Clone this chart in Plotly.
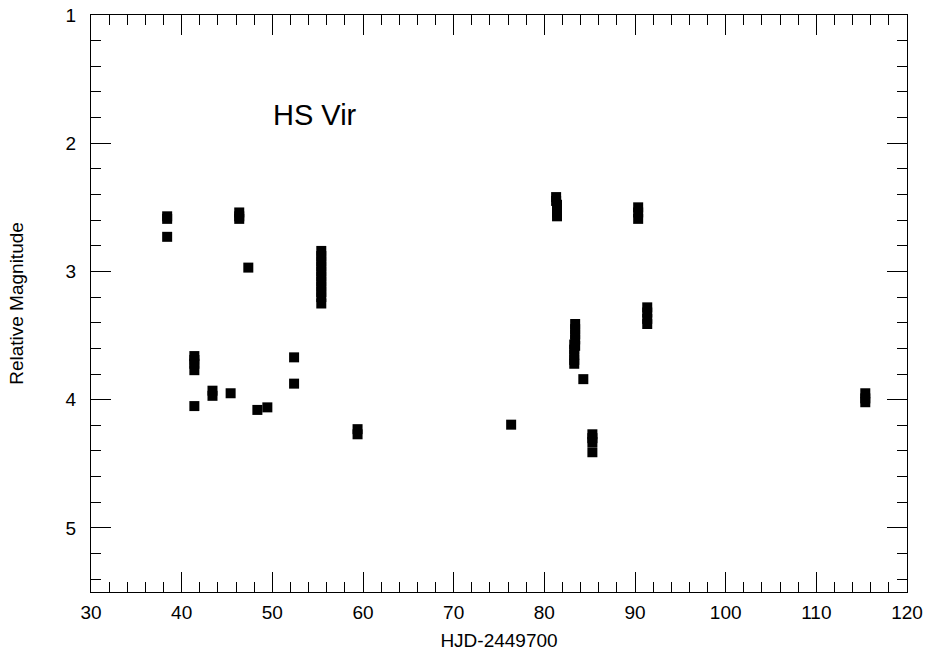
import plotly.graph_objects as go

hjd = [
    38.4, 38.4, 38.4,
    41.4, 41.4, 41.4, 41.4, 41.4,
    43.4, 43.4,
    45.4,
    46.35, 46.35, 46.35,
    47.35,
    48.35,
    49.45,
    52.4, 52.4,
    55.4, 55.4, 55.4, 55.4, 55.4, 55.4, 55.4, 55.4, 55.4, 55.4, 55.4,
    59.4, 59.4,
    76.34,
    81.3, 81.3, 81.4, 81.4, 81.4, 81.4,
    83.4, 83.4, 83.4, 83.4, 83.4,
    83.3, 83.3, 83.3, 83.3, 83.3,
    84.3,
    85.3, 85.3, 85.3, 85.3,
    90.35, 90.35, 90.35,
    91.35, 91.35, 91.35, 91.35,
    115.4, 115.4, 115.4,
]
mag = [
    2.57, 2.59, 2.73,
    3.66, 3.69, 3.72, 3.77, 4.05,
    3.93, 3.97,
    3.95,
    2.54, 2.57, 2.59,
    2.97,
    4.08,
    4.06,
    3.67, 3.875,
    2.84, 2.88, 2.92, 2.96, 3.00, 3.04, 3.08, 3.12, 3.16, 3.20, 3.25,
    4.23, 4.27,
    4.195,
    2.42, 2.45, 2.48, 2.51, 2.54, 2.57,
    3.41, 3.45, 3.49, 3.53, 3.58,
    3.57, 3.61, 3.65, 3.69, 3.72,
    3.84,
    4.27, 4.30, 4.33, 4.41,
    2.50, 2.54, 2.59,
    3.28, 3.32, 3.37, 3.41,
    3.95, 3.99, 4.02,
]

x_ticks = [30, 40, 50, 60, 70, 80, 90, 100, 110, 120]
y_ticks = [1, 2, 3, 4, 5]
star_name = "HS Vir"

FONT = "Liberation Sans, Arial, sans-serif"

fig = go.Figure()
fig.add_trace(go.Scatter(
    x=hjd, y=mag, mode="markers",
    marker=dict(symbol="square", size=10, color="black", line=dict(width=0)),
    showlegend=False, hoverinfo="x+y",
))

fig.add_annotation(
    x=49.9, y=1.78, xref="x", yref="y", text=star_name, showarrow=False,
    xanchor="left", yanchor="middle", font=dict(size=29, color="black", family=FONT),
)

axis_common = dict(
    showline=True, linecolor="black", linewidth=1, mirror="ticks",
    ticks="inside", ticklen=20, tickwidth=1, tickcolor="black",
    showgrid=False, zeroline=False, ticklabeloverflow="allow",
    tickfont=dict(size=19, color="black", family=FONT),
)

fig.update_xaxes(
    range=[30, 120], tickvals=x_ticks, ticktext=[str(v) for v in x_ticks],
    minor=dict(dtick=2, tick0=30, ticks="inside", ticklen=10, tickcolor="black", tickwidth=1, showgrid=False),
    title=dict(text="HJD-2449700", font=dict(size=19, color="black", family=FONT), standoff=15),
    ticklabelstandoff=3,
    **axis_common,
)
fig.update_yaxes(
    range=[5.5, 1], tickvals=y_ticks, ticktext=[str(v) for v in y_ticks],
    minor=dict(dtick=0.2, tick0=1, ticks="inside", ticklen=10, tickcolor="black", tickwidth=1, showgrid=False),
    title=dict(text="Relative Magnitude", font=dict(size=19, color="black", family=FONT), standoff=36),
    ticklabelstandoff=10,
    **axis_common,
)

fig.update_layout(
    width=927, height=651,
    margin=dict(l=91, r=20, t=15, b=59, autoexpand=False),
    paper_bgcolor="white", plot_bgcolor="white",
    font=dict(family=FONT, color="black"),
)

fig.write_html(
    "out.html",
    config={"displayModeBar": False},
    post_script="document.body.style.margin='0';document.body.style.overflow='hidden';",
)
